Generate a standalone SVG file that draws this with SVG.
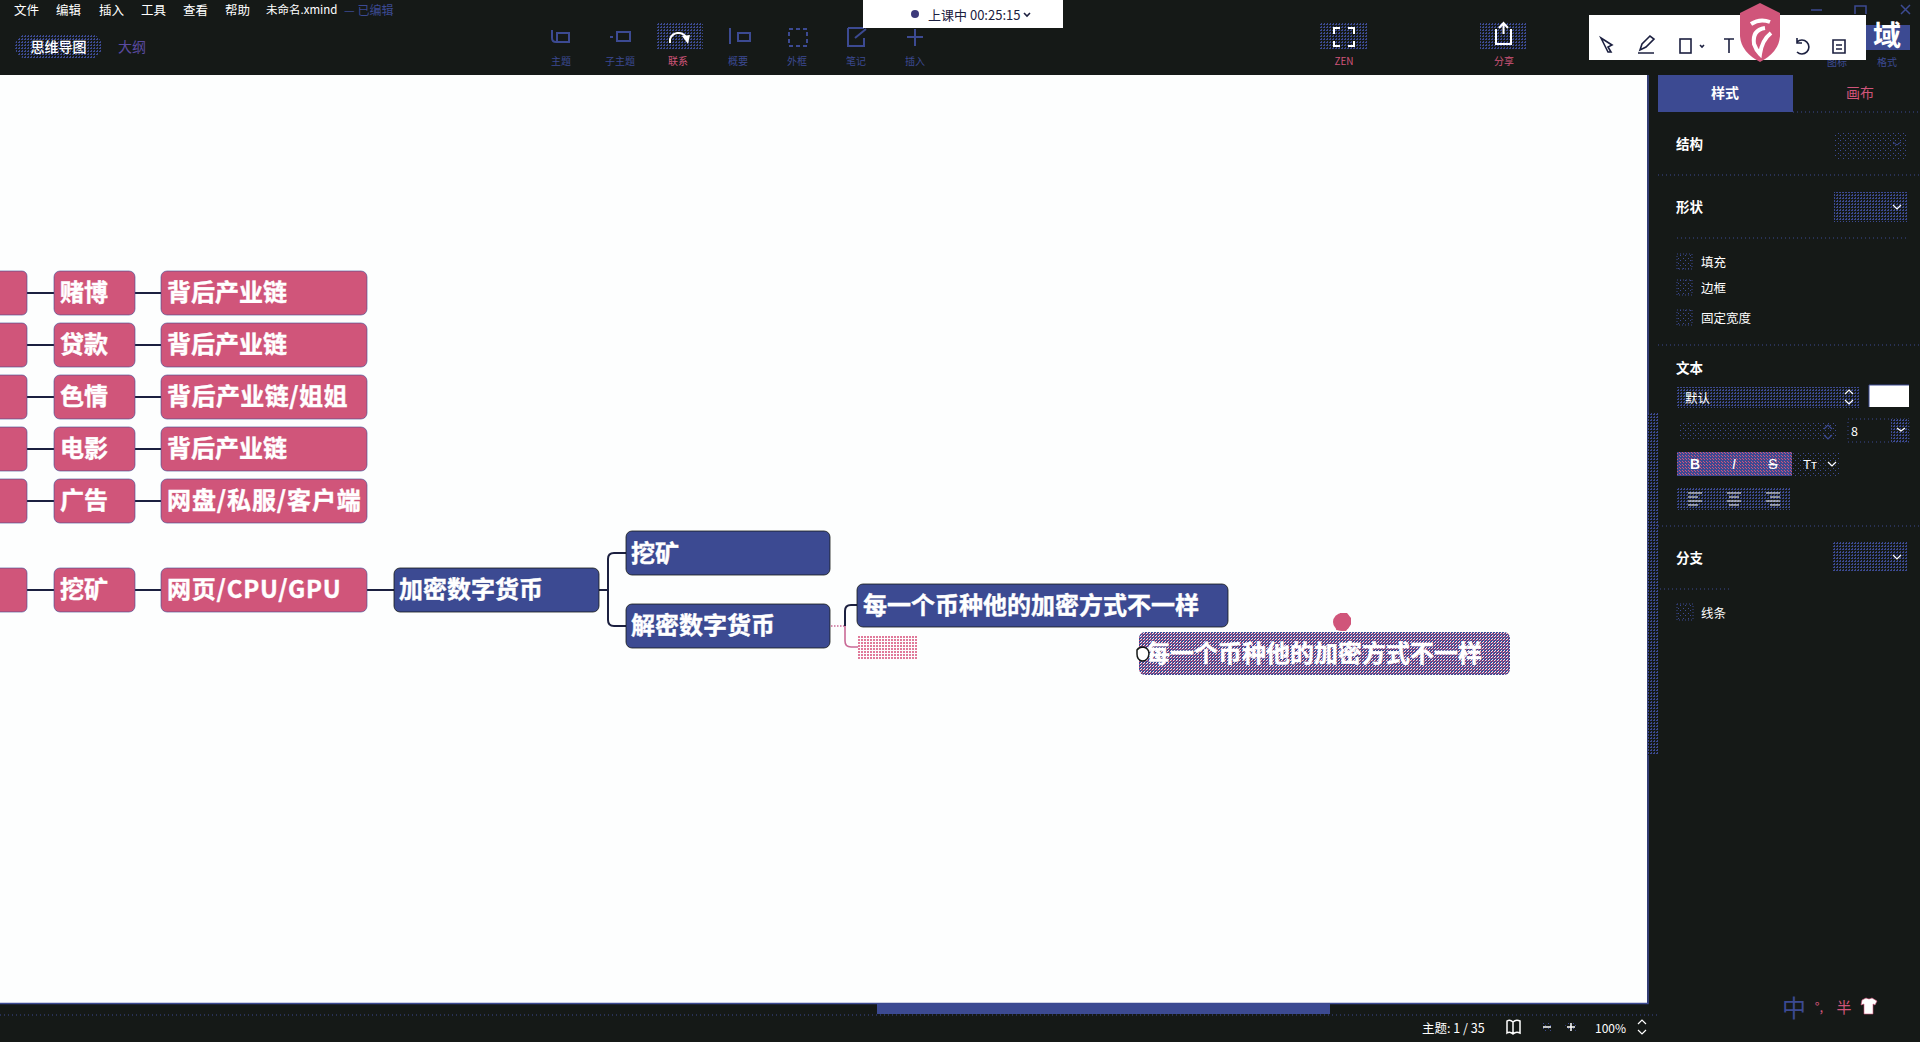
<svg xmlns="http://www.w3.org/2000/svg" width="1920" height="1042" viewBox="0 0 1920 1042">
<style>
text{font-family:"Noto Sans CJK SC","Noto Sans",sans-serif;dominant-baseline:central}
.n{font-size:24px;font-weight:700;fill:#fff;stroke:#fff;stroke-width:.4;transform:translateY(-1.3px)}
.pk{fill:#d0557a;stroke:#3c4a92;stroke-width:.6}
.bl{fill:#3c4a92;stroke:#151917;stroke-width:.8}
.c{fill:none;stroke:#1c2040;stroke-width:2}
.cp{fill:none;stroke:#c96a96;stroke-width:1.6}
.m{font-size:12.5px;fill:#fff}
.t{font-size:10px;fill:#3c4a92;text-anchor:middle}
.tp{font-size:10px;fill:#d0557a;text-anchor:middle}
.h{font-size:13.5px;font-weight:700;fill:#fff;transform:translateY(-1px)}
.l{font-size:12.5px;fill:#fff;transform:translateY(-1px)}
.sep{stroke:#3c4a92;stroke-width:1;stroke-dasharray:1 3;fill:none}
.d{fill:url(#dith)}
.ds{fill:url(#dithS)}
.ck{fill:url(#dithS);stroke:#3c4a92;stroke-width:1;stroke-dasharray:1 2}
.ic{fill:none;stroke:#fff;stroke-width:2}
.icb{fill:none;stroke:#3c4a92;stroke-width:2}
.ick{fill:none;stroke:#1c2040;stroke-width:1.6}
</style>
<defs>
<pattern id="dith" width="3" height="3" patternUnits="userSpaceOnUse"><rect width="3" height="3" fill="#151917"/><rect width="2" height="1" fill="#3c4a92"/><rect x="1" y="2" width="1" height="1" fill="#3c4a92"/></pattern>
<pattern id="dithS" width="5" height="5" patternUnits="userSpaceOnUse"><rect width="5" height="5" fill="#151917"/><rect width="1" height="1" fill="#3c4a92"/><rect x="3" y="3" width="1" height="1" fill="#3c4a92"/></pattern>
<pattern id="sel" width="3" height="3" patternUnits="userSpaceOnUse"><rect width="3" height="3" fill="#3c4a92"/><rect width="1" height="1" fill="#f2e3ec"/><rect x="2" y="1" width="1" height="1" fill="#d0557a"/><rect x="1" y="2" width="1" height="1" fill="#f2e3ec"/><rect x="1" y="0" width="1" height="1" fill="#d0557a"/></pattern>
<pattern id="ph" width="3" height="3" patternUnits="userSpaceOnUse"><rect width="3" height="3" fill="#fdfefe"/><rect width="2" height="2" fill="#e07a9a"/></pattern>
<pattern id="bis" width="3" height="3" patternUnits="userSpaceOnUse"><rect width="3" height="3" fill="#3c4a92"/><rect width="1" height="1" fill="#d0557a"/><rect x="2" y="2" width="1" height="1" fill="#d0557a"/></pattern>
</defs>

<rect id="background" width="1920" height="1042" fill="#151917"/>
<rect id="canvas" x="0" y="75" width="1647" height="928" fill="#fdfefe"/>
<path d="M0 1003.500H1648V75" fill="none" stroke="#3c4a92" stroke-width="1.500"/>

<g id="connectors">
<path class="c" d="M27 293H54M135 293H161M27 345H54M135 345H161M27 397H54M135 397H161M27 449H54M135 449H161M27 501H54M135 501H161M27 590H54M135 590H161M367 590H394"/>
<path class="c" d="M599 590H608M626 553H614Q608 553 608 559V620Q608 626 614 626H626"/>
<path class="cp" stroke-dasharray="1.500 1.500" d="M831 626H845"/>
<path class="c" d="M857 605H851Q845 605 845 611V626"/>
<path class="cp" d="M845 626V641Q845 647 851 647H858"/>
</g>

<g id="n-col0">
<rect class="pk" x="-10" y="271" width="37" height="44" rx="5"/>
<rect class="pk" x="-10" y="323" width="37" height="44" rx="5"/>
<rect class="pk" x="-10" y="375" width="37" height="44" rx="5"/>
<rect class="pk" x="-10" y="427" width="37" height="44" rx="5"/>
<rect class="pk" x="-10" y="479" width="37" height="44" rx="5"/>
<rect class="pk" x="-10" y="568" width="37" height="44" rx="5"/>
</g>
<g id="n-dubo"><rect class="pk" x="54" y="271" width="81" height="44" rx="6"/><text class="n" x="60" y="292">赌博</text></g>
<g id="n-daikuan"><rect class="pk" x="54" y="323" width="81" height="44" rx="6"/><text class="n" x="60" y="344">贷款</text></g>
<g id="n-seqing"><rect class="pk" x="54" y="375" width="81" height="44" rx="6"/><text class="n" x="60" y="396">色情</text></g>
<g id="n-dianying"><rect class="pk" x="54" y="427" width="81" height="44" rx="6"/><text class="n" x="60" y="448">电影</text></g>
<g id="n-guanggao"><rect class="pk" x="54" y="479" width="81" height="44" rx="6"/><text class="n" x="60" y="500">广告</text></g>
<g id="n-wakuang1"><rect class="pk" x="54" y="568" width="81" height="44" rx="6"/><text class="n" x="60" y="589">挖矿</text></g>
<g id="n-chain1"><rect class="pk" x="161" y="271" width="206" height="44" rx="6"/><text class="n" x="167" y="292">背后产业链</text></g>
<g id="n-chain2"><rect class="pk" x="161" y="323" width="206" height="44" rx="6"/><text class="n" x="167" y="344">背后产业链</text></g>
<g id="n-chain3"><rect class="pk" x="161" y="375" width="206" height="44" rx="6"/><text class="n" x="167" y="396" letter-spacing=".45">背后产业链/姐姐</text></g>
<g id="n-chain4"><rect class="pk" x="161" y="427" width="206" height="44" rx="6"/><text class="n" x="167" y="448">背后产业链</text></g>
<g id="n-pan"><rect class="pk" x="161" y="479" width="206" height="44" rx="6"/><text class="n" x="167" y="500" letter-spacing=".9">网盘/私服/客户端</text></g>
<g id="n-web"><rect class="pk" x="161" y="568" width="206" height="44" rx="6"/><text class="n" x="167" y="589" letter-spacing=".8">网页/CPU/GPU</text></g>
<g id="n-crypto"><rect class="bl" x="394" y="568" width="205" height="44" rx="6"/><text class="n" x="399" y="589">加密数字货币</text></g>
<g id="n-wakuang2"><rect class="bl" x="626" y="531" width="204" height="44" rx="6"/><text class="n" x="631" y="553">挖矿</text></g>
<g id="n-decrypt"><rect class="bl" x="626" y="604" width="204" height="44" rx="6"/><text class="n" x="631" y="625">解密数字货币</text></g>
<g id="n-each"><rect class="bl" x="857" y="584" width="371" height="43" rx="6"/><text class="n" x="863" y="605">每一个币种他的加密方式不一样</text></g>
<g id="n-placeholder"><rect x="858" y="636" width="59" height="23" fill="url(#ph)"/></g>
<g id="n-drag">
<rect x="1139" y="632" width="371" height="43" rx="6" fill="url(#sel)"/>
<text class="n" x="1146" y="653">每一个币种他的加密方式不一样</text>
<path d="M1336 630L1340 613H1347L1351 618V624L1346 631Z" fill="#d0557a"/>
<circle cx="1342" cy="622" r="9" fill="#d0557a"/>
<path d="M1137 650Q1139 647 1143 647Q1149 648 1149 654Q1148 661 1142 661Q1137 660 1137 654Z" fill="#fff" stroke="#151917" stroke-width="1.500"/>
</g>

<g id="menubar">
<text class="m" x="14" y="9">文件</text><text class="m" x="56" y="9">编辑</text><text class="m" x="99" y="9">插入</text><text class="m" x="141" y="9">工具</text><text class="m" x="183" y="9">查看</text><text class="m" x="225" y="9">帮助</text>
<text class="m" x="266" y="9" style="font-size:11.5px">未命名.xmind</text>
<text class="m" x="344" y="9" style="font-size:12px;fill:#3c4a92">— 已编辑</text>
<rect x="15" y="34" width="87" height="25" rx="12.500" class="d"/>
<text x="58.500" y="46" style="font-size:14px;fill:#fff;text-anchor:middle;font-weight:500">思维导图</text>
<text x="132" y="46" style="font-size:14px;fill:#5a4aa0;text-anchor:middle">大纲</text>
</g>

<g id="toolbar">
<rect x="656" y="23" width="47" height="27" class="d"/>
<rect x="1320" y="23" width="48" height="27" class="d"/>
<rect x="1480" y="23" width="47" height="27" class="d"/>
<path class="icb" d="M552 30V38Q552 42 556 42H563M557 33H569V42H557Z"/>
<path class="icb" d="M610 37H613M617 32H630V41H617Z"/>
<path class="ic" stroke-width="2.500" d="M670 43V39A9 9 0 0 1 686 37"/><path d="M682 36L690 35L688 44Z" fill="#fff"/>
<path class="icb" d="M730 28V44M738 33H750V41H738Z"/>
<rect class="icb" x="789" y="29" width="18" height="17" stroke-dasharray="4 3"/>
<path class="icb" d="M848 28H864M848 28V46H864V38M855 38L866 29"/>
<path class="icb" d="M915 29V46M907 37H923"/>
<text class="t" x="561" y="60">主题</text><text class="t" x="620" y="60">子主题</text><text class="tp" x="678" y="60">联系</text><text class="t" x="738" y="60">概要</text><text class="t" x="797" y="60">外框</text><text class="t" x="856" y="60">笔记</text><text class="t" x="915" y="60">插入</text>
<path class="ic" d="M1337 36V30H1343M1351 30H1357V36M1357 43V48H1351M1343 48H1337V43" transform="translate(-3 -2)"/>
<path class="ic" d="M1497 29H1496V43H1511V29H1510M1503.500 33V23M1499 27L1503.500 22L1508 27" transform="translate(0 1)"/>
<text class="tp" x="1344" y="60">ZEN</text><text class="tp" x="1504" y="60">分享</text>
</g>

<g id="rec-pill">
<rect x="863" y="0" width="200" height="28" fill="#fff"/>
<circle cx="915" cy="14" r="4" fill="#3c3a7a"/>
<text x="928" y="14" style="font-size:13px;fill:#1c2040">上课中 00:25:15</text>
<path d="M1024 13L1027 16L1030 13" class="ick"/>
</g>

<g id="window-controls">
<path d="M1811 10H1822" stroke="#3c4a92" stroke-width="1.500"/>
<path d="M1855 14V6H1866V14" fill="none" stroke="#3c4a92" stroke-width="1.500"/>
<path d="M1901 5L1910 14M1910 5L1901 14" stroke="#3c4a92" stroke-width="1.500"/>
<rect x="1866" y="25" width="44" height="25" fill="#3c4a92"/>
<text x="1887" y="34" style="font-size:28px;font-weight:700;fill:#fff;text-anchor:middle">域</text>
<text class="t" x="1837" y="61">图标</text><text class="t" x="1887" y="61">格式</text>
</g>

<g id="annotation-bar">
<rect x="1589" y="15" width="277" height="45" fill="#fff"/>
<path class="ick" d="M1601 39L1612 46L1608 48L1611 53L1608 53L1606 49Z" transform="translate(0 -1)"/>
<path class="ick" d="M1640 50L1642 44L1650 36L1654 39L1646 47ZM1638 53H1654"/>
<rect class="ick" x="1680" y="39" width="11" height="14"/>
<path class="ick" d="M1700 45L1702 47L1704 45"/>
<path class="ick" d="M1724 39H1734M1729 39V53"/>
<path class="ick" d="M1797 42A7 7 0 1 1 1797 52M1797 38V43H1802"/>
<path class="ick" d="M1833 40H1845V53H1833ZM1836 45H1842M1836 49H1842"/>
<path d="M1760 3L1780 13V36Q1779 52 1760 62Q1741 52 1740 36V13Z" fill="#d0557a"/>
<path d="M1751 24Q1760 18 1770 22M1765 28Q1752 30 1754 44Q1756 50 1760 54Q1762 40 1771 33" fill="none" stroke="#fff" stroke-width="4"/>
</g>

<g id="panel">
<rect x="1648" y="413" width="10" height="342" class="d"/>
<rect x="1658" y="75" width="135" height="37" fill="#3c4a92"/>
<path class="sep" d="M1793 112H1920"/>
<text x="1725" y="92" style="font-size:14px;font-weight:700;fill:#fff;text-anchor:middle">样式</text>
<text x="1860" y="92" style="font-size:14px;fill:#d0557a;text-anchor:middle">画布</text>
<text class="h" x="1676" y="144">结构</text>
<rect class="ds" x="1835" y="132" width="73" height="28"/>
<path d="M1893 142L1897 145L1901 142" fill="none" stroke="#3c4a92" stroke-width="1"/>
<path class="sep" d="M1658 175H1920"/>
<text class="h" x="1676" y="207">形状</text>
<rect class="d" x="1834" y="192" width="74" height="30"/>
<path d="M1893 205L1897 209L1901 205" fill="none" stroke="#fff" stroke-width="1.200"/>
<path class="sep" d="M1677 238H1908"/>
<rect class="ck" x="1677" y="254" width="15" height="15"/><text class="l" x="1701" y="262">填充</text>
<rect class="ck" x="1677" y="280" width="15" height="15"/><text class="l" x="1701" y="288">边框</text>
<rect class="ck" x="1677" y="310" width="15" height="15"/><text class="l" x="1701" y="318">固定宽度</text>
<path class="sep" d="M1658 345H1920"/>
<text class="h" x="1676" y="368">文本</text>
<rect class="d" x="1677" y="387" width="183" height="21"/>
<text class="l" x="1685" y="398">默认</text>
<path d="M1845 394L1849 390L1853 394M1845 400L1849 404L1853 400" fill="none" stroke="#fff" stroke-width="1.200"/>
<rect x="1869" y="385" width="40" height="22" fill="#fff"/>
<path d="M1869 407V385H1909" fill="none" stroke="#3c4a92" stroke-width="1"/>
<rect class="ds" x="1680" y="423" width="157" height="17"/>
<path d="M1824 429L1828 425L1832 429M1824 435L1828 439L1832 435" fill="none" stroke="#3c4a92" stroke-width="1.200"/>
<rect x="1848" y="419" width="61" height="23" fill="none" stroke="#3c4a92" stroke-dasharray="1 3"/>
<rect class="d" x="1891" y="419" width="18" height="23"/>
<text class="l" x="1851" y="431">8</text>
<path d="M1897 428L1901 431L1905 428" fill="none" stroke="#fff" stroke-width="1.200"/>
<rect x="1677" y="452" width="115" height="24" fill="url(#bis)"/>
<rect class="ds" x="1793" y="453" width="47" height="23"/>
<text x="1695" y="464" style="font-family:'Liberation Sans',sans-serif;font-size:14px;font-weight:700;fill:#fff;text-anchor:middle">B</text>
<text x="1734" y="464" style="font-family:'Liberation Sans',sans-serif;font-size:14px;font-style:italic;fill:#fff;text-anchor:middle">I</text>
<text x="1773" y="464" style="font-family:'Liberation Sans',sans-serif;font-size:14px;fill:#fff;text-anchor:middle;text-decoration:line-through">S</text>
<text x="1810" y="464" style="font-family:'Liberation Sans',sans-serif;font-size:13px;fill:#fff;text-anchor:middle">Tт</text>
<path d="M1828 462L1832 466L1836 462" fill="none" stroke="#fff" stroke-width="1.200"/>
<rect class="d" x="1677" y="487" width="114" height="23"/>
<path d="M1688 493H1702M1688 497H1698M1688 501H1702M1688 505H1698M1727 493H1741M1729 497H1739M1727 501H1741M1729 505H1739M1766 493H1780M1770 497H1780M1766 501H1780M1770 505H1780" stroke="#fff" stroke-width="1.200"/>
<path class="sep" d="M1658 526H1920"/>
<text class="h" x="1676" y="558">分支</text>
<rect class="d" x="1833" y="542" width="75" height="30"/>
<path d="M1893 555L1897 559L1901 555" fill="none" stroke="#fff" stroke-width="1.200"/>
<path class="sep" d="M1660 589H1730"/>
<rect class="ck" x="1677" y="604" width="16" height="16"/><text class="l" x="1701" y="613">线条</text>
</g>

<g id="statusbar">
<rect x="877" y="1004" width="453" height="10" fill="#3c4a92"/>
<path class="sep" d="M0 1015H1658"/>
<text class="m" x="1422" y="1027" style="font-size:12.5px">主题: 1 / 35</text>
<path d="M1507 1021Q1510 1019 1513 1022Q1516 1019 1520 1021V1033Q1516 1031 1513 1034Q1510 1031 1507 1033ZM1513 1022V1034" fill="none" stroke="#fff" stroke-width="1.500"/>
<circle cx="1547" cy="1027" r="6" class="ds"/><path d="M1543 1027H1551" stroke="#fff" stroke-width="1.500"/>
<circle cx="1571" cy="1027" r="6" class="ds"/><path d="M1567 1027H1575M1571 1023V1031" stroke="#fff" stroke-width="1.500"/>
<text class="m" x="1595" y="1027" style="font-size:12px">100%</text>
<path d="M1638 1024L1642 1020L1646 1024M1638 1030L1642 1034L1646 1030" fill="none" stroke="#fff" stroke-width="1.200"/>
<text x="1794" y="1006" style="font-size:24px;fill:#3c4a92;text-anchor:middle">中</text>
<text x="1819" y="1006" style="font-size:13px;fill:#d0557a;text-anchor:middle">°,</text>
<text x="1844" y="1006" style="font-size:15px;fill:#d0557a;text-anchor:middle">半</text>
<path d="M1862 1000L1866 998Q1869 1000 1872 998L1877 1001L1875 1005L1873 1004V1014H1864V1004L1861 1005Z" fill="#fff" stroke="#d0557a" stroke-width=".6"/>
</g>
</svg>
